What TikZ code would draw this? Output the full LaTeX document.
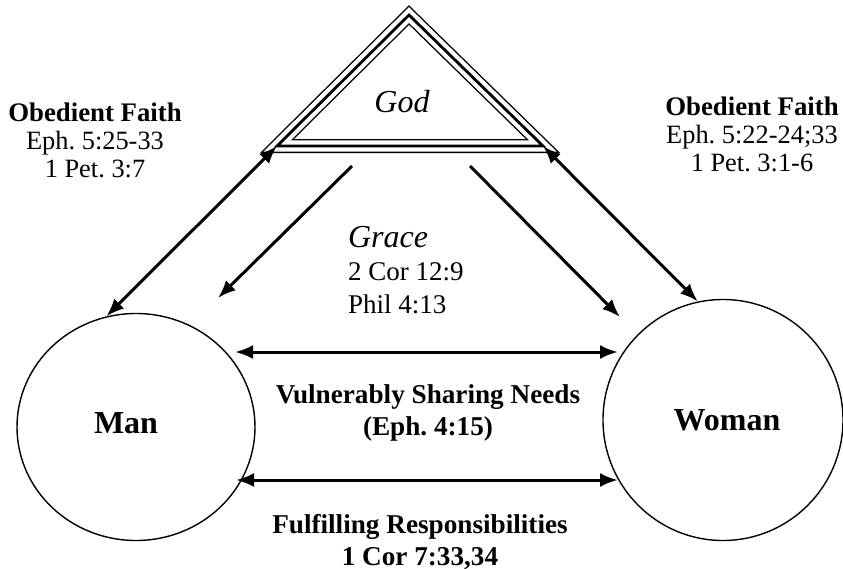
\documentclass[tikz,border=0pt]{standalone}
\usepackage{fontspec}
\setmainfont{Liberation Serif}
\frenchspacing
\usetikzlibrary{arrows.meta,shapes.geometric}
\tikzstyle{person}=[draw, ellipse, line width=0.7pt, inner sep=0pt,
  font=\fontsize{16}{19}\selectfont\bfseries]
\tikzstyle{verse}=[align=center, font=\fontsize{13.2}{14}\selectfont]
\tikzstyle{grace}=[align=left, font=\fontsize{13.5}{16.5}\selectfont]
\tikzstyle{line}=[draw, line width=1.5pt,
  {Latex[length=9pt,width=7pt]}-{Latex[length=9pt,width=7pt]}]
\tikzstyle{oneway}=[line, -{Latex[length=9pt,width=7pt]}]
\newcommand{\godside}[1]{\draw[line join=miter, #1] (APEX) -- (GODR) -- (GODL) -- cycle;}

\begin{document}
\begin{tikzpicture}[x=0.5pt,y=-0.5pt]
  \useasboundingbox (0,0) rectangle (843,569);

  % God triangle corners
  \coordinate (APEX) at (409,15);
  \coordinate (GODL) at (277,146);
  \coordinate (GODR) at (543,146);
  \godside{line width=7pt}
  \godside{line width=5.6pt, white}
  \godside{line width=1.4pt}
  \node (GOD) at (402,102) {\fontsize{16}{19}\selectfont\itshape God};

  % the two persons
  \node (MAN) [person, minimum width=119pt, minimum height=113.5pt] at (136,427) {\raisebox{4pt}{Man\hspace{10pt}}};
  \node (WOMAN) [person, minimum width=120pt, minimum height=120.5pt] at (723,420) {\hspace{4pt}Woman};

  % free ends of the arrows
  \coordinate (GRACEL0) at (352,166);
  \coordinate (GRACEL1) at (218,298);
  \coordinate (GRACER0) at (470,166);
  \coordinate (GRACER1) at (620,317);
  \coordinate (NEEDSL) at (235,352);
  \coordinate (NEEDSR) at (618,352);
  \coordinate (RESPL) at (236,480);
  \coordinate (RESPR) at (618,480);

  % texts
  \node (FAITHL) [verse] at (95,140) {\fontsize{13.4}{14}\selectfont\bfseries Obedient Faith\\Eph. 5:25-33\\1 Pet. 3:7};
  \node (FAITHR) [verse] at (752,134) {\fontsize{13.4}{14}\selectfont\bfseries Obedient Faith\\Eph. 5:22-24;33\\1 Pet. 3:1-6};
  \node (GRACE) [grace, anchor=west] at (341,270) {{\fontsize{16}{16.5}\selectfont\itshape Grace}\\2 Cor 12:9\\Phil 4:13};
  \node (NEEDS) [verse, font=\fontsize{13.6}{16}\selectfont\bfseries] at (428,413) {Vulnerably Sharing Needs\\(Eph. 4:15)};
  \node (RESP) [verse, font=\fontsize{13.6}{16}\selectfont\bfseries] at (420,542) {Fulfilling Responsibilities\\1 Cor 7:33,34};

  % arrows
  \path [line] (GODL) -- (MAN.105);
  \path [line] (GODR) -- (WOMAN.102);
  \path [oneway] (GRACEL0) -- (GRACEL1);
  \path [oneway] (GRACER0) -- (GRACER1);
  \path [line] (NEEDSL) -- (NEEDSR);
  \path [line] (RESPL) -- (RESPR);
\end{tikzpicture}
\end{document}
